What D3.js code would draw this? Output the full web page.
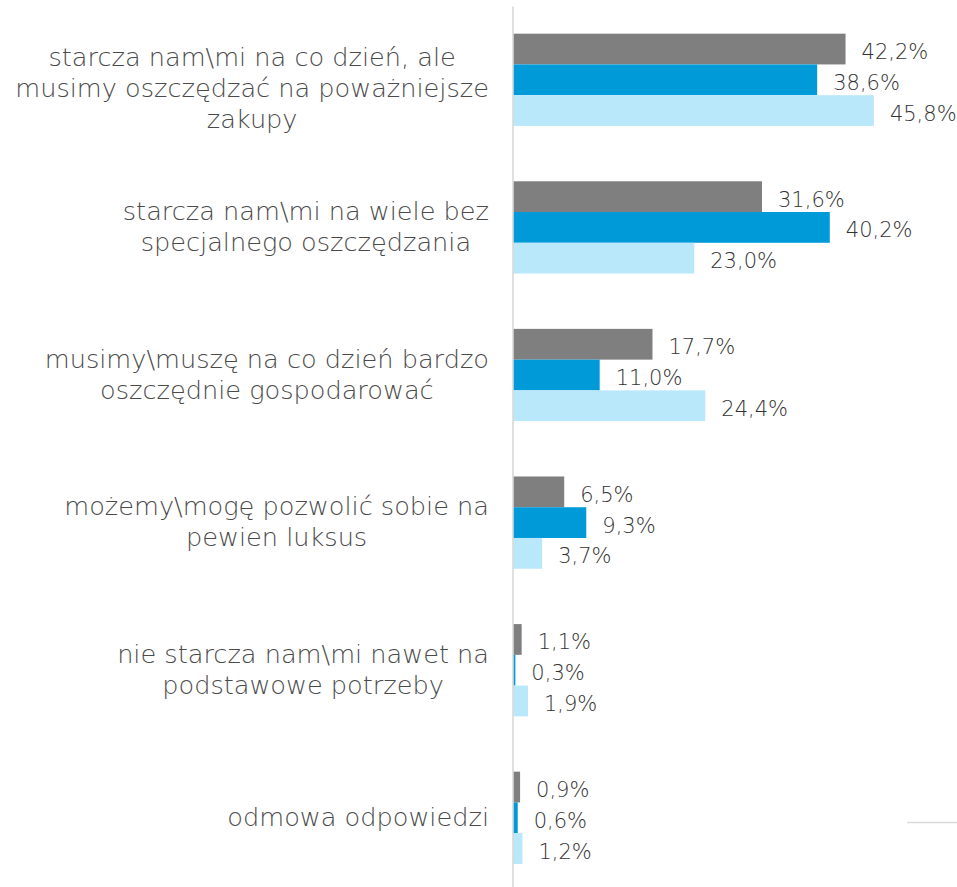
<!DOCTYPE html>
<html>
<head>
<meta charset="utf-8">
<script src="https://cdn.jsdelivr.net/npm/d3@7"></script>
<style>
  html, body { margin: 0; padding: 0; background: #fff; }
  svg { display: block; }
</style>
</head>
<body>
<svg id="chart" width="957" height="887"></svg>
<script>
// ---- data ----
const categories = [
  ["starcza nam\\mi na co dzień, ale", "musimy oszczędzać na poważniejsze", "zakupy"],
  ["starcza nam\\mi na wiele bez", "specjalnego oszczędzania"],
  ["musimy\\muszę na co dzień bardzo", "oszczędnie gospodarować"],
  ["możemy\\mogę pozwolić sobie na", "pewien luksus"],
  ["nie starcza nam\\mi nawet na", "podstawowe potrzeby"],
  ["odmowa odpowiedzi"]
];
const seriesNames = ["s1", "s2", "s3"];
const seriesA = [42.2, 31.6, 17.7, 6.5, 1.1, 0.9];
const seriesB = [38.6, 40.2, 11.0, 9.3, 0.3, 0.6];
const seriesC = [45.8, 23.0, 24.4, 3.7, 1.9, 1.2];
const colors = ["#7f7f7f", "#009ad9", "#bae8fb"];
const xDomain = [0, 50];

// ---- layout ----
const svg = d3.select("#chart");
const x0 = 513, x1 = 907;
const yTop = 6, yBot = 891.6;
const textColor = "#4a4a4a";
const font = "'DejaVu Sans', sans-serif";
const fontWeight = 300;

const x = d3.scaleLinear().domain(xDomain).range([x0, x1]);
const y = d3.scaleBand().domain(d3.range(categories.length)).range([yTop, yBot])
  .paddingInner(0.375).paddingOuter(0.1875);
const ySub = d3.scaleBand().domain(seriesNames).range([0, y.bandwidth()]).padding(0);

const seriesVals = [seriesA, seriesB, seriesC];
const rows = [];
categories.forEach((c, i) => {
  seriesNames.forEach((s, j) => rows.push({ cat: i, s, j, v: seriesVals[j][i] }));
});

// bars
svg.append("g").selectAll("rect").data(rows).join("rect")
  .attr("x", x(0))
  .attr("y", d => y(d.cat) + ySub(d.s))
  .attr("width", d => x(d.v) - x(0))
  .attr("height", ySub.bandwidth())
  .attr("fill", d => colors[d.j]);

// value labels
const fmt = v => v.toFixed(1).replace(".", ",") + "%";
svg.append("g").selectAll("text").data(rows).join("text")
  .attr("x", d => x(d.v) + 16)
  .attr("y", d => y(d.cat) + ySub(d.s) + ySub.bandwidth() / 2 + 10)
  .attr("font-family", font)
  .attr("font-weight", fontWeight)
  .attr("font-size", 21)
  .attr("fill", "#333333")
  .text(d => fmt(d.v));

// axis line
const yAxis = d3.axisLeft(y).tickSize(0).tickFormat("");
const ag = svg.append("g").attr("transform", `translate(${x0 - 0.5},0)`).call(yAxis);
ag.select(".domain").attr("stroke", "#d9d9d9").attr("stroke-width", 1.6);

// category labels (multi-line, centered block, right-aligned to axis)
const labelRight = 489;
const lineH = 31;
const lg = svg.append("g");
categories.forEach((lines, i) => {
  const g = lg.append("g");
  const texts = lines.map(l => g.append("text")
    .attr("font-family", font)
    .attr("font-weight", fontWeight)
    .attr("font-size", 25.6)
    .attr("fill", textColor)
    .attr("text-anchor", "middle")
    .text(l));
  const maxW = d3.max(texts, t => t.node().getComputedTextLength());
  const cx = labelRight - maxW / 2;
  const center = y(i) + y.bandwidth() / 2;
  let firstBase = center + 8 - (lines.length - 1) / 2 * lineH;
  // keep the label block inside the chart area
  const minFirstBase = 66;
  if (firstBase < minFirstBase) firstBase = minFirstBase;
  texts.forEach((t, k) => t.attr("x", cx).attr("y", firstBase + k * lineH));
});

// small decorative line at bottom right
svg.append("line")
  .attr("x1", x1).attr("x2", 957)
  .attr("y1", 822.5).attr("y2", 822.5)
  .attr("stroke", "#d9d9d9").attr("stroke-width", 1.5);
</script>
</body>
</html>
